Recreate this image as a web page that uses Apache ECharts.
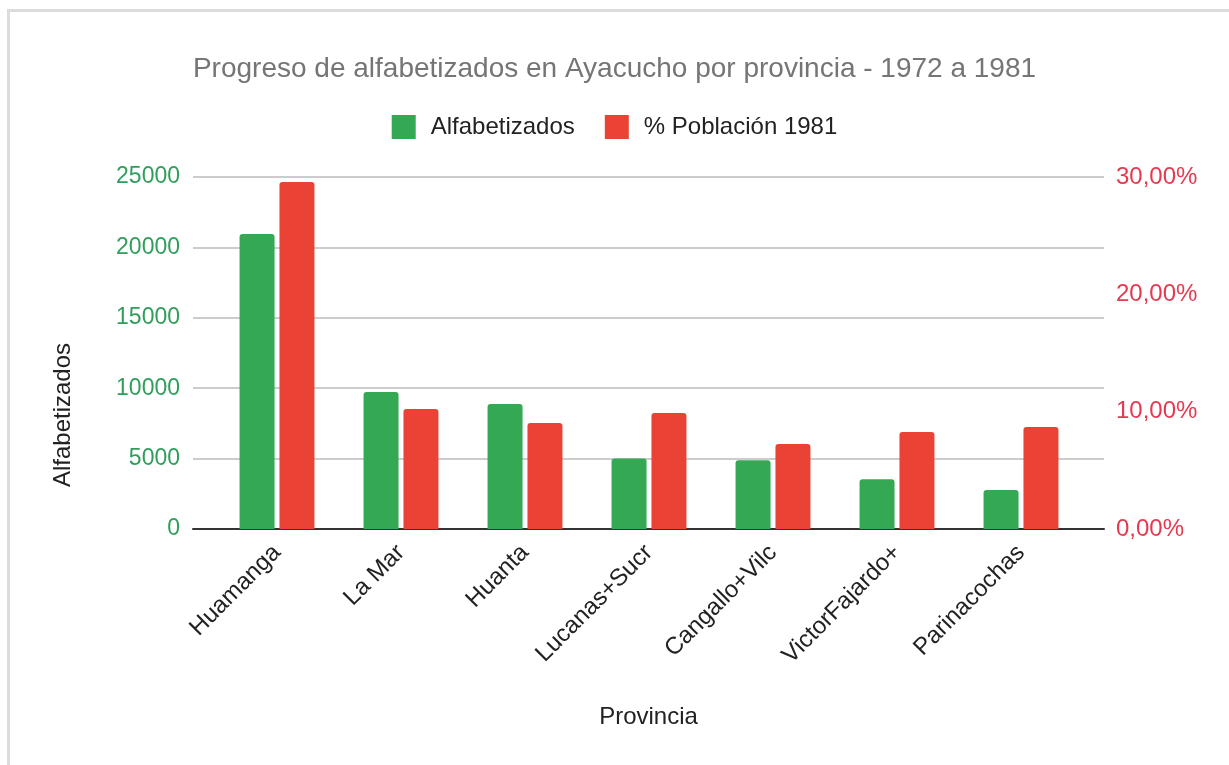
<!DOCTYPE html>
<html>
<head>
<meta charset="utf-8">
<script src="https://cdn.jsdelivr.net/npm/echarts@6/dist/echarts.min.js"></script>
<style>
  html, body { margin: 0; padding: 0; background: #fff; }
  #frame { position: absolute; left: 7px; top: 9px; width: 1300px; height: 900px;
           border-top: 3px solid #dcdcdc; border-left: 3px solid #dcdcdc; }
  #main { position: absolute; left: 0; top: 0; width: 1229px; height: 765px; }
</style>
</head>
<body>
<div id="frame"></div>
<div id="main"></div>
<script>
// provincias
var categories = ['Huamanga', 'La Mar', 'Huanta', 'Lucanas+Sucr', 'Cangallo+Vilc', 'VictorFajardo+', 'Parinacochas']
// alfabetizados 1972-1981
var alfabetizados = [20950, 9730, 8880, 5000, 4880, 3530, 2770]
// % poblacion 1981
var poblacion1981 = [29.57, 10.23, 9.03, 9.89, 7.24, 8.27, 8.69]

var leftTicks = { min: 0, max: 25000, interval: 5000 }
var rightTicks = { min: 0, max: 30, interval: 10 }

var font = '"Liberation Sans", Arial, sans-serif'
var green = '#34a853'
var red = '#ea4335'

var option = {
  animation: false,
  textStyle: { fontFamily: font },
  title: {
    text: 'Progreso de alfabetizados en Ayacucho por provincia - 1972 a 1981',
    left: 'center',
    top: 50,
    textStyle: { color: '#757575', fontSize: 28, fontWeight: 'normal', fontFamily: font }
  },
  legend: {
    top: 110,
    left: 'center',
    itemWidth: 24,
    itemHeight: 24,
    itemGap: 30,
    icon: 'rect',
    textStyle: { color: '#222', fontSize: 24, fontFamily: font, padding: [0, 0, 0, 10] },
    data: ['Alfabetizados', '% Población 1981']
  },
  grid: [
    // area de lineas y ejes
    { left: 193, right: 125, top: 177, bottom: 236 },
    // area de barras
    { left: 215, right: 146, top: 177, bottom: 236 }
  ],
  xAxis: [
    {
      gridIndex: 0,
      type: 'category',
      data: categories,
      name: 'Provincia',
      nameLocation: 'middle',
      nameGap: 176,
      nameTextStyle: { color: '#222', fontSize: 24, fontFamily: font },
      axisLine: { lineStyle: { color: '#333', width: 2 } },
      axisTick: { show: false },
      axisLabel: { show: false }
    },
    {
      gridIndex: 1,
      type: 'category',
      data: categories,
      axisLine: { show: false },
      axisTick: { show: false },
      axisLabel: {
        rotate: 45, margin: 20, color: '#222', fontSize: 24, fontFamily: font, interval: 0,
        padding: [22, 0, 0, 0]
      }
    }
  ],
  yAxis: [
    {
      gridIndex: 0,
      type: 'value',
      min: leftTicks.min,
      max: leftTicks.max,
      interval: leftTicks.interval,
      name: 'Alfabetizados',
      nameLocation: 'middle',
      nameGap: 118,
      nameTextStyle: { color: '#222', fontSize: 24, fontFamily: font, padding: [0, 124, 0, 0] },
      axisLine: { show: false },
      axisTick: { show: false },
      axisLabel: {
        margin: 13,
        color: '#2f9e5a',
        fontSize: 23,
        fontFamily: font,
        formatter: function (v) { return String(v) }
      },
      splitLine: { lineStyle: { color: '#cccccc', width: 2 } }
    },
    {
      gridIndex: 0,
      type: 'value',
      position: 'right',
      min: rightTicks.min,
      max: rightTicks.max,
      interval: rightTicks.interval,
      axisLine: { show: false },
      axisTick: { show: false },
      splitLine: { show: false },
      axisLabel: {
        margin: 12,
        color: '#e53950',
        fontSize: 24,
        fontFamily: font,
        formatter: function (v) { return v.toFixed(2).replace('.', ',') + '%' }
      }
    },
    {
      gridIndex: 1, type: 'value', min: leftTicks.min, max: leftTicks.max,
      show: false, splitLine: { show: false }
    },
    {
      gridIndex: 1, type: 'value', min: rightTicks.min, max: rightTicks.max,
      show: false, splitLine: { show: false }
    }
  ],
  series: [
    {
      name: 'Alfabetizados',
      type: 'bar',
      xAxisIndex: 1,
      yAxisIndex: 2,
      data: alfabetizados,
      barWidth: 35,
      barGap: '14%',
      itemStyle: { color: green, borderRadius: [3, 3, 0, 0] }
    },
    {
      name: '% Población 1981',
      type: 'bar',
      xAxisIndex: 1,
      yAxisIndex: 3,
      data: poblacion1981,
      barWidth: 35,
      barGap: '14%',
      itemStyle: { color: red, borderRadius: [3, 3, 0, 0] }
    }
  ]
}

var myChart = echarts.init(document.getElementById('main'))
myChart.setOption(option)
</script>
</body>
</html>
